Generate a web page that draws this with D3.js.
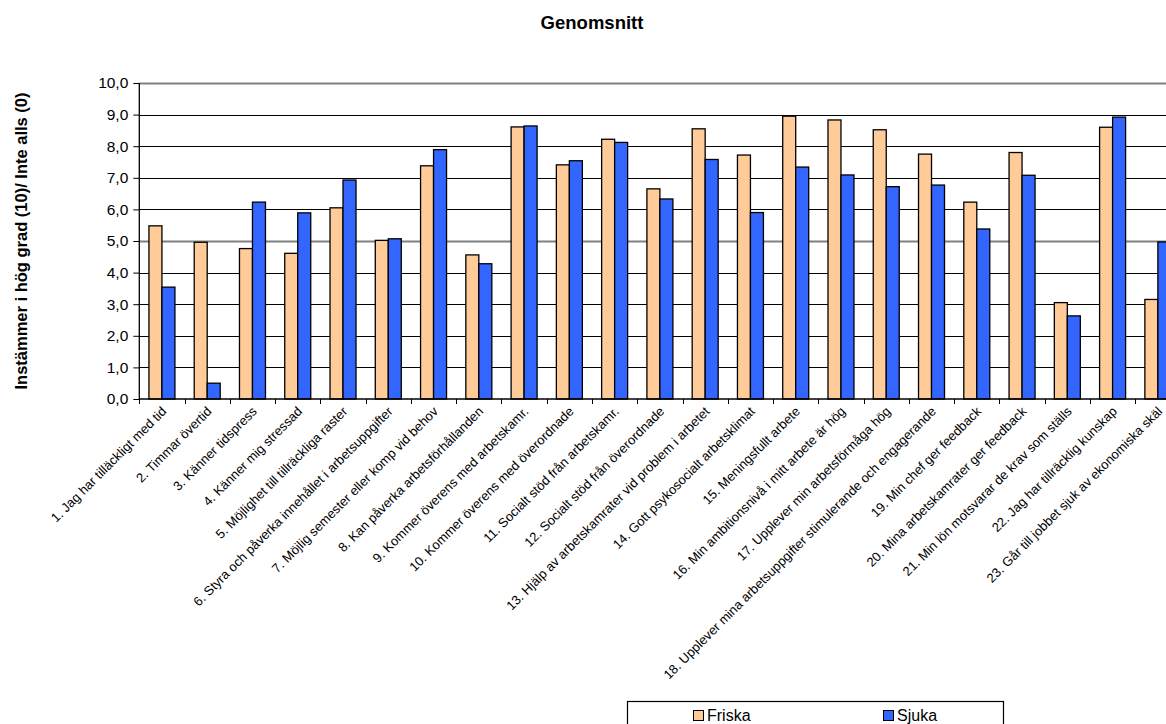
<!DOCTYPE html>
<html>
<head>
<meta charset="utf-8">
<script src="https://cdn.jsdelivr.net/npm/d3@7"></script>
<style>
  html, body { margin: 0; padding: 0; background: #fff; }
  svg { display: block; font-family: "Liberation Sans", Arial, sans-serif; }
</style>
</head>
<body>
<svg id="chart" width="1166" height="724"></svg>
<script>
const categories = [
  "1. Jag har tilläckligt med tid",
  "2. Timmar övertid",
  "3. Känner tidspress",
  "4. Känner mig stressad",
  "5. Möjlighet till tillräckliga raster",
  "6. Styra och påverka innehållet i arbetsuppgifter",
  "7. Möjlig semester eller komp vid behov",
  "8. Kan påverka arbetsförhållanden",
  "9. Kommer överens med arbetskamr.",
  "10. Kommer överens med överordnade",
  "11. Socialt stöd från arbetskamr.",
  "12. Socialt stöd från överordnade",
  "13. Hjälp av arbetskamrater vid problem i arbetet",
  "14. Gott psykosocialt arbetsklimat",
  "15. Meningsfullt arbete",
  "16. Min ambitionsnivå i mitt arbete är hög",
  "17. Upplever min arbetsförmåga hög",
  "18. Upplever mina arbetsuppgifter stimulerande och engagerande",
  "19. Min chef ger feedback",
  "20. Mina arbetskamrater ger feedback",
  "21. Min lön motsvarar de krav som ställs",
  "22. Jag har tillräcklig kunskap",
  "23. Går till jobbet sjuk av ekonomiska skäl"
];
const seriesNames = ["Friska", "Sjuka"];
const friska = [5.48, 4.96, 4.76, 4.61, 6.05, 5.02, 7.38, 4.56, 8.61, 7.41, 8.22, 6.65, 8.55, 7.72, 8.95, 8.83, 8.52, 7.75, 6.23, 7.80, 3.05, 8.60, 3.15];
const sjuka  = [3.54, 0.50, 6.23, 5.89, 6.93, 5.07, 7.89, 4.28, 8.64, 7.54, 8.12, 6.33, 7.58, 5.90, 7.34, 7.09, 6.72, 6.77, 5.38, 7.08, 2.63, 8.92, 4.97];
const yTicks = [0,1,2,3,4,5,6,7,8,9,10];
const title = "Genomsnitt";
const yTitle = "Instämmer i hög grad (10)/ Inte alls (0)";

const colors = { "Friska": "#FFCC99", "Sjuka": "#3366FF" };
const values = { "Friska": friska, "Sjuka": sjuka };

const svg = d3.select("#chart");
const plot = { left: 139.3, right: 1180.5, top: 83, bottom: 399 };

const x0 = d3.scaleBand().domain(categories).range([plot.left, plot.right]).padding(0);
const x1 = d3.scaleBand().domain(seriesNames).range([0, x0.bandwidth()]).paddingInner(0).paddingOuter(0.742);
const y = d3.scaleLinear().domain([0, 10]).range([plot.bottom, plot.top]);
const fmt = d => d.toFixed(1).replace(".", ",");

// gridlines
svg.append("g").selectAll("line").data(yTicks.filter(d => d > 0)).join("line")
  .attr("x1", plot.left).attr("x2", plot.right)
  .attr("y1", d => Math.round(y(d)) + 0.5).attr("y2", d => Math.round(y(d)) + 0.5)
  .attr("stroke", d => (d === 10 || d === 5) ? "#808080" : "#000")
  .attr("stroke-width", d => (d === 10 || d === 5) ? 1.8 : 1);

// bars
const groups = svg.append("g").selectAll("g").data(categories).join("g")
  .attr("transform", d => `translate(${x0(d)},0)`);
groups.selectAll("rect").data((d, i) => seriesNames.map(s => ({ s, v: values[s][i] }))).join("rect")
  .attr("x", d => x1(d.s))
  .attr("width", x1.bandwidth())
  .attr("y", d => y(d.v))
  .attr("height", d => y(0) - y(d.v))
  .attr("fill", d => colors[d.s])
  .attr("stroke", "#000")
  .attr("stroke-width", 1.3);

// y axis
const yAxis = d3.axisLeft(y).tickValues(yTicks).tickFormat(fmt).tickSize(6).tickPadding(5);
const gy = svg.append("g").attr("transform", `translate(${plot.left},0)`).call(yAxis);
gy.select(".domain").attr("stroke", "#000").attr("stroke-width", 1.3).attr("d", `M0,${plot.top}V${plot.bottom}`);
gy.selectAll(".tick line").attr("stroke", "#000");
gy.selectAll(".tick text").attr("font-size", "15.5px").attr("fill", "#000")
  .attr("font-family", "Liberation Sans, Arial, sans-serif");

// x axis with ticks at category boundaries
const xAxisG = svg.append("g");
xAxisG.append("line").attr("x1", plot.left).attr("x2", plot.right)
  .attr("y1", plot.bottom).attr("y2", plot.bottom).attr("stroke", "#000").attr("stroke-width", 1.5);
xAxisG.selectAll("line.tk").data(categories).join("line").attr("class", "tk")
  .attr("x1", d => Math.round(x0(d)) + 0.5).attr("x2", d => Math.round(x0(d)) + 0.5)
  .attr("y1", plot.bottom).attr("y2", plot.bottom + 5).attr("stroke", "#000");
xAxisG.selectAll("text").data(categories).join("text")
  .attr("transform", d => `translate(${x0(d) + x0.bandwidth() / 2 + 2},${plot.bottom + 10}) rotate(-45)`)
  .attr("text-anchor", "end")
  .attr("dy", "0.35em")
  .attr("font-size", "13px")
  .attr("fill", "#000")
  .text(d => d);

// title
svg.append("text").attr("x", 592).attr("y", 29).attr("text-anchor", "middle")
  .attr("font-size", "18.5px").attr("font-weight", "bold").text(title);

// y title
svg.append("text").attr("transform", `translate(27,${(plot.top + plot.bottom) / 2}) rotate(-90)`)
  .attr("text-anchor", "middle").attr("font-size", "16.5px").attr("font-weight", "bold").text(yTitle);

// legend
const lg = svg.append("g");
lg.append("rect").attr("x", 627.5).attr("y", 701.5).attr("width", 376).attr("height", 40)
  .attr("fill", "#fff").attr("stroke", "#000").attr("stroke-width", 1.2);
const legendX = d3.scaleOrdinal().domain(seriesNames).range([693, 883]);
const items = lg.selectAll("g").data(seriesNames).join("g")
  .attr("transform", d => `translate(${legendX(d)},0)`);
items.append("rect").attr("x", 0.5).attr("y", 710.5).attr("width", 10).attr("height", 10)
  .attr("fill", d => colors[d]).attr("stroke", "#000").attr("stroke-width", 1);
items.append("text").attr("x", 14).attr("y", 721).attr("font-size", "16px").text(d => d);
</script>
</body>
</html>
